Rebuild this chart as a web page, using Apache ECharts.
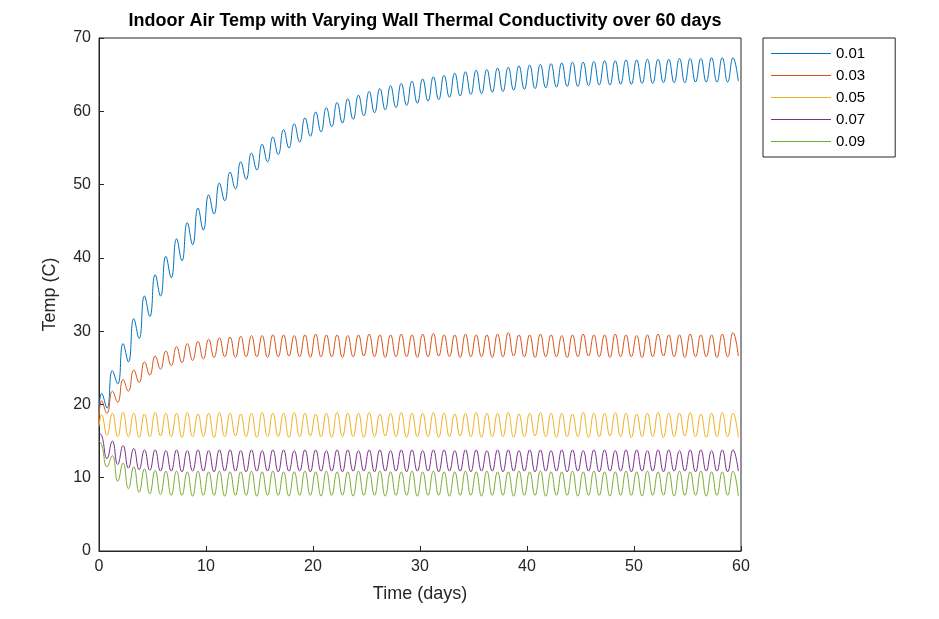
<!DOCTYPE html>
<html>
<head>
<meta charset="utf-8">
<script src="https://cdn.jsdelivr.net/npm/echarts@6/dist/echarts.min.js"></script>
<style>html,body{margin:0;background:#fff}#main{width:939px;height:619px}</style>
</head>
<body>
<div id="main"></div>
<script>
// legend names and colours
var names = ['0.01', '0.03', '0.05', '0.07', '0.09'];
var colors = ['#0072BD', '#D95319', '#EDB120', '#7E2F8E', '#77AC30'];
// starting temperature at day 0
var startTemps = [19.0, 17.5, 17.0, 16.0, 15.0];
// daily peak temperatures (days 0..59)
var highs = [
  [21.5,24.6,28.3,31.7,34.8,37.7,40.2,42.6,44.8,46.8,
   48.6,50.2,51.7,53.1,54.3,55.5,56.5,57.5,58.3,59.1,
   59.9,60.5,61.2,61.7,62.2,62.7,63.1,63.5,63.8,64.1,
   64.4,64.7,64.9,65.2,65.4,65.6,65.7,65.9,66.0,66.2,
   66.3,66.4,66.5,66.6,66.7,66.7,66.8,66.9,66.9,67.0,
   67.0,67.1,67.1,67.1,67.2,67.2,67.2,67.3,67.3,67.3],
  [20.5,21.8,23.4,24.7,25.8,26.6,27.3,27.9,28.3,28.6,
   28.9,29.1,29.2,29.3,29.4,29.4,29.5,29.5,29.4,29.5,
   29.6,29.5,29.5,29.4,29.5,29.6,29.5,29.5,29.6,29.5,
   29.6,29.7,29.5,29.5,29.6,29.5,29.5,29.6,29.8,29.5,
   29.5,29.6,29.5,29.4,29.5,29.6,29.5,29.5,29.6,29.5,
   29.4,29.5,29.6,29.5,29.5,29.6,29.5,29.5,29.6,29.8],
  [18.6,18.8,18.9,18.8,18.7,18.9,18.8,18.8,18.9,18.7,
   18.8,18.9,18.8,18.7,18.8,18.9,18.8,18.8,18.9,18.8,
   18.7,18.8,18.9,18.8,18.8,18.9,18.7,18.8,18.9,18.8,
   18.8,18.9,18.8,18.7,18.8,18.9,18.8,18.8,18.9,18.7,
   18.8,18.9,18.8,18.8,18.7,18.9,18.8,18.8,18.9,18.8,
   18.7,18.8,18.9,18.8,18.8,18.9,18.7,18.8,18.9,18.8],
  [15.8,15.0,14.4,14.0,13.8,13.8,13.7,13.8,13.7,13.8,
   13.7,13.8,13.8,13.7,13.8,13.7,13.8,13.8,13.7,13.8,
   13.8,13.7,13.8,13.8,13.7,13.8,13.8,13.7,13.8,13.8,
   13.7,13.8,13.8,13.7,13.8,13.8,13.7,13.8,13.8,13.7,
   13.8,13.8,13.7,13.8,13.8,13.7,13.8,13.8,13.7,13.8,
   13.8,13.7,13.8,13.8,13.7,13.8,13.8,13.7,13.8,13.8],
  [14.5,13.0,12.0,11.5,11.2,11.0,10.9,10.9,10.8,10.9,
   10.8,10.9,10.8,10.8,10.9,10.8,10.9,10.8,10.8,10.9,
   10.8,10.9,10.8,10.8,10.9,10.8,10.9,10.8,10.8,10.9,
   10.8,10.9,10.8,10.8,10.9,10.8,10.9,10.8,10.8,10.9,
   10.8,10.9,10.8,10.8,10.9,10.8,10.9,10.8,10.8,10.9,
   10.8,10.9,10.8,10.8,10.9,10.8,10.9,10.8,10.8,10.9]
];
// daily trough temperatures (days 0..59)
var lows = [
  [19.5,22.8,25.8,29.0,32.0,34.8,37.3,39.6,41.8,43.8,
   46.0,47.8,49.4,50.7,52.0,53.1,54.1,55.0,55.8,56.6,
   57.2,57.9,58.4,58.9,59.4,59.8,60.2,60.5,60.8,61.1,
   61.4,61.6,61.9,62.1,62.3,62.4,62.6,62.7,62.9,63.0,
   63.1,63.2,63.3,63.4,63.4,63.5,63.6,63.6,63.7,63.7,
   63.8,63.8,63.9,63.9,63.9,64.0,64.0,64.0,64.0,64.1],
  [18.8,20.3,21.8,23.0,24.0,24.8,25.3,25.7,26.0,26.2,
   26.4,26.5,26.4,26.5,26.5,26.4,26.5,26.6,26.5,26.4,
   26.5,26.5,26.4,26.5,26.6,26.5,26.4,26.5,26.5,26.4,
   26.5,26.6,26.5,26.4,26.5,26.5,26.4,26.5,26.6,26.5,
   26.4,26.5,26.5,26.4,26.5,26.6,26.5,26.4,26.5,26.5,
   26.4,26.5,26.6,26.5,26.4,26.5,26.5,26.4,26.5,26.6],
  [15.8,15.6,15.6,15.5,15.6,15.7,15.6,15.5,15.6,15.6,
   15.5,15.6,15.7,15.6,15.5,15.6,15.6,15.5,15.6,15.7,
   15.6,15.5,15.6,15.6,15.5,15.6,15.7,15.6,15.5,15.6,
   15.6,15.5,15.6,15.7,15.6,15.5,15.6,15.6,15.5,15.6,
   15.7,15.6,15.5,15.6,15.6,15.5,15.6,15.7,15.6,15.5,
   15.6,15.6,15.5,15.6,15.7,15.6,15.5,15.6,15.6,15.5],
  [12.6,11.8,11.3,11.1,11.0,10.9,10.9,10.8,10.9,10.9,
   10.8,10.9,10.9,10.8,10.9,10.9,10.8,10.9,10.9,10.8,
   10.9,10.9,10.8,10.9,10.9,10.8,10.9,10.9,10.8,10.9,
   10.9,10.8,10.9,10.9,10.8,10.9,10.9,10.8,10.9,10.9,
   10.8,10.9,10.9,10.8,10.9,10.9,10.8,10.9,10.9,10.8,
   10.9,10.9,10.8,10.9,10.9,10.8,10.9,10.9,10.8,10.9],
  [11.5,9.5,8.5,8.0,7.8,7.7,7.6,7.6,7.5,7.6,
   7.6,7.5,7.6,7.6,7.5,7.6,7.6,7.5,7.6,7.6,
   7.5,7.6,7.6,7.5,7.6,7.6,7.5,7.6,7.6,7.5,
   7.6,7.6,7.5,7.6,7.6,7.5,7.6,7.6,7.5,7.6,
   7.6,7.5,7.6,7.6,7.5,7.6,7.6,7.5,7.6,7.6,
   7.5,7.6,7.6,7.5,7.6,7.6,7.5,7.6,7.6,7.5]
];

var series = [];
for (var s = 0; s < names.length; s++) {
    var pts = [[0, startTemps[s]]];
    for (var d = 0; d < highs[s].length; d++) {
        pts.push([d + 0.25, highs[s][d]]);
        pts.push([d + 0.75, lows[s][d]]);
    }
    series.push({
        name: names[s], type: 'line', data: pts, smooth: true,
        showSymbol: false, lineStyle: {width: 1, color: colors[s]},
        itemStyle: {color: colors[s]}
    });
}

var myChart = echarts.init(document.getElementById('main'));
var axisCommon = {
    axisLine: {lineStyle: {color: '#262626'}},
    axisTick: {inside: true, length: 5, lineStyle: {color: '#262626'}},
    axisLabel: {color: '#262626', fontSize: 16, fontFamily: 'Arial, Liberation Sans'},
    splitLine: {show: false},
    nameTextStyle: {color: '#262626', fontSize: 18, fontFamily: 'Arial, Liberation Sans'}
};
myChart.setOption({
    animation: false,
    title: {
        text: 'Indoor Air Temp with Varying Wall Thermal Conductivity over 60 days',
        left: 420, top: 7, textAlign: 'center',
        textStyle: {fontSize: 18, fontWeight: 'bold', color: '#000', fontFamily: 'Arial, Liberation Sans'}
    },
    legend: {
        orient: 'vertical', left: 763, top: 38, data: names,
        itemWidth: 60, itemHeight: 1, itemGap: 7, padding: [8, 30, 8, 8],
        borderColor: '#262626', borderWidth: 1, borderRadius: 0,
        icon: 'rect',
        textStyle: {fontSize: 15, color: '#000', fontFamily: 'Arial, Liberation Sans'}
    },
    grid: {left: 99, right: 198, top: 38, bottom: 68, show: true, borderColor: '#262626', borderWidth: 1},
    xAxis: Object.assign({type: 'value', min: 0, max: 60, interval: 10,
        name: 'Time (days)', nameLocation: 'middle', nameGap: 34}, axisCommon),
    yAxis: Object.assign({type: 'value', min: 0, max: 70, interval: 10,
        name: 'Temp (C)', nameLocation: 'middle', nameGap: 40}, axisCommon),
    series: series
});
</script>
</body>
</html>
